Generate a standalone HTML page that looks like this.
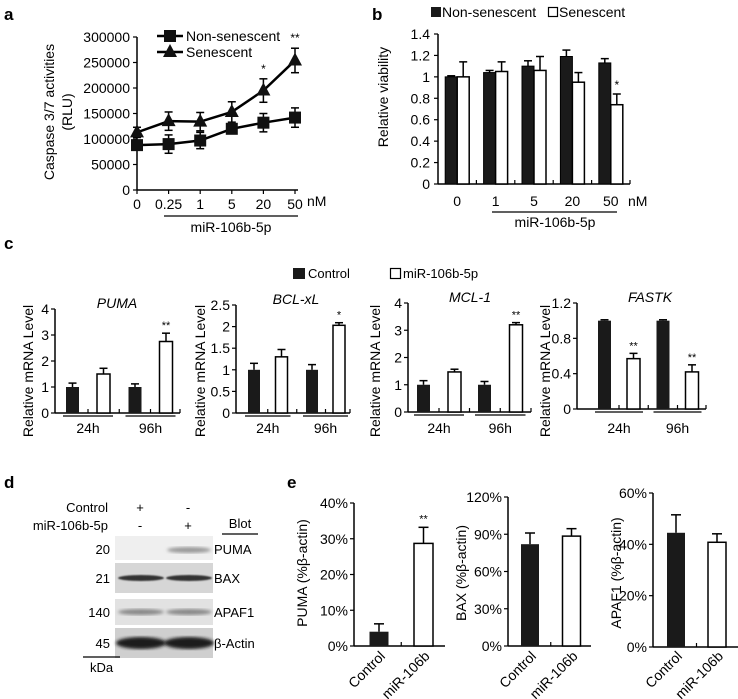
<!DOCTYPE html>
<html><head><meta charset="utf-8"><style>
body{margin:0;background:#fff}
svg{display:block;font-family:"Liberation Sans",Arial,sans-serif}
</style></head><body>
<svg id="fig" width="738" height="699" viewBox="0 0 738 699" xmlns="http://www.w3.org/2000/svg">
<defs><filter id="blur"><feGaussianBlur stdDeviation="1.6"/></filter><filter id="blur2"><feGaussianBlur stdDeviation="0.8"/></filter></defs>
<text x="4" y="20" font-size="17" font-weight="bold">a</text>
<text x="372" y="20" font-size="17" font-weight="bold">b</text>
<text x="4" y="249" font-size="17" font-weight="bold">c</text>
<text x="4" y="488" font-size="17" font-weight="bold">d</text>
<text x="287" y="488" font-size="17" font-weight="bold">e</text>
<g id="pa"></g>
<g id="pb"></g>
<g id="pc"></g>
<g id="pd">
 <text x="108" y="512" font-size="13" text-anchor="end">Control</text>
 <text x="108" y="530" font-size="13" text-anchor="end">miR-106b-5p</text>
 <text x="140" y="512" font-size="13" text-anchor="middle">+</text>
 <text x="188" y="512" font-size="13" text-anchor="middle">-</text>
 <text x="140" y="530" font-size="13" text-anchor="middle">-</text>
 <text x="188" y="530" font-size="13" text-anchor="middle">+</text>
 <text x="240" y="528" font-size="13" text-anchor="middle">Blot</text>
 <line x1="222" y1="534" x2="258" y2="534" stroke="#000" stroke-width="1.2"/>
 <rect x="115" y="536" width="98" height="24" fill="#efefef"/>
 <ellipse cx="189" cy="550" rx="22" ry="3" fill="#999" filter="url(#blur)"/>
 <rect x="115" y="563" width="98" height="30" fill="#d6d6d6"/>
 <ellipse cx="141" cy="578" rx="23" ry="3" fill="#333" filter="url(#blur2)"/>
 <ellipse cx="189" cy="578" rx="23" ry="3" fill="#333" filter="url(#blur2)"/>
 <rect x="115" y="599" width="98" height="26" fill="#e2e2e2"/>
 <ellipse cx="141" cy="612" rx="23" ry="3" fill="#888" filter="url(#blur)"/>
 <ellipse cx="189" cy="612" rx="23" ry="3" fill="#888" filter="url(#blur)"/>
 <rect x="115" y="628" width="98" height="30" fill="#cfcfcf"/>
 <ellipse cx="141" cy="643" rx="25" ry="6" fill="#1a1a1a" filter="url(#blur)"/>
 <ellipse cx="189" cy="643" rx="25" ry="6" fill="#1a1a1a" filter="url(#blur)"/>
 <text x="110" y="554" font-size="13" text-anchor="end">20</text>
 <text x="110" y="583" font-size="13" text-anchor="end">21</text>
 <text x="110" y="617" font-size="13" text-anchor="end">140</text>
 <text x="110" y="648" font-size="13" text-anchor="end">45</text>
 <text x="214" y="554" font-size="13">PUMA</text>
 <text x="214" y="583" font-size="13">BAX</text>
 <text x="214" y="617" font-size="13">APAF1</text>
 <text x="214" y="648" font-size="13">β-Actin</text>
 <line x1="83" y1="657" x2="120" y2="657" stroke="#000" stroke-width="1.2"/>
 <text x="90" y="672" font-size="13">kDa</text>
</g>
<g id="pe"></g>
</svg>
<script>
// ---------- Panel a data ----------
const aCats = ["0","0.25","1","5","20","50"];
const aNon = [88000,90000,97000,120000,132000,142000];
const aNonErr = [9000,18000,16000,9000,18000,19000];
const aSen = [113000,135000,134000,153000,195000,254000];
const aSenErr = [10000,18000,18000,20000,23000,24000];
const aTicks = [0,50000,100000,150000,200000,250000,300000];
const aSig = ["","","","","*","**"];
// ---------- Panel b data ----------
const bCats = ["0","1","5","20","50"];
const bNon = [1.0,1.04,1.10,1.19,1.13];
const bNonErr = [0.01,0.02,0.05,0.06,0.04];
const bSen = [1.0,1.05,1.06,0.95,0.74];
const bSenErr = [0.14,0.09,0.13,0.09,0.10];
const bTicks = [0,0.2,0.4,0.6,0.8,1,1.2,1.4];
const bTickLabels = ["0","0.2","0.4","0.6","0.8","1","1.2","1.4"];
const bSig = ["","","","","*"];
// ---------- Panel c data ----------
const cGenes = ["PUMA","BCL-xL","MCL-1","FASTK"];
const cTimes = ["24h","96h"];
const cCtrl = [[1.0,1.0],[1.0,1.0],[1.0,1.0],[1.0,1.0]];
const cCtrlErr = [[0.15,0.12],[0.15,0.12],[0.15,0.12],[0.01,0.01]];
const cMir = [[1.5,2.75],[1.3,2.03],[1.47,3.2],[0.57,0.42]];
const cMirErr = [[0.22,0.32],[0.17,0.06],[0.1,0.08],[0.06,0.08]];
const cSig = [["","**"],["","*"],["","**"],["**","**"]];
const cMax = [4,2.5,4,1.2];
const cTickLabels = [["0","1","2","3","4"],["0","0.5","1","1.5","2","2.5"],["0","1","2","3","4"],["0","0.4","0.8","1.2"]];
// ---------- Panel e data ----------
const eProteins = ["PUMA","BAX","APAF1"];
const eCats = ["Control","miR-106b"];
const eVals = [[4,28.7],[82,88.5],[44.5,40.8]];
const eErr = [[2.2,4.5],[9,6],[7,3.3]];
const eSig = [["","**"],["",""],["",""]];
const eMax = [40,120,60];
const eTickLabels = [["0%","10%","20%","30%","40%"],["0%","30%","60%","90%","120%"],["0%","20%","40%","60%"]];

const NS="http://www.w3.org/2000/svg";
function mk(parent,tag,attrs,txt){const e=document.createElementNS(NS,tag);for(const k in attrs)e.setAttribute(k,attrs[k]);if(txt!==undefined)e.textContent=txt;parent.appendChild(e);return e;}
function line(p,x1,y1,x2,y2,w){return mk(p,"line",{x1,y1,x2,y2,stroke:"#000","stroke-width":w||1.5});}
function errBar(p,x,yTop,yErr,cap){line(p,x,yTop,x,yErr,1.5);line(p,x-cap,yErr,x+cap,yErr,1.5);}

// ===== Panel a =====
(function(){
const g=document.getElementById("pa");
const x0=137,y0=190,yT=37;
const ys=v=>y0-(v/300000)*(y0-yT);
const xsc=i=>x0+i*((295-137)/5);
line(g,x0,yT,x0,y0,1.5);line(g,x0,y0,298,y0,1.5);
aTicks.forEach(t=>{line(g,x0-4,ys(t),x0,ys(t),1.2);
 const tl=mk(g,"text",{x:x0-7,y:ys(t)+5,"font-size":14,"text-anchor":"end"},String(t));
 
 });
aCats.forEach((c,i)=>{line(g,xsc(i),y0,xsc(i),y0+4,1.2);
 const tl=mk(g,"text",{x:xsc(i),y:y0+19,"font-size":14,"text-anchor":"middle"},c);
 
 });
mk(g,"text",{x:307,y:206,"font-size":14},"nM");
line(g,164,216,298,216,1.2);
mk(g,"text",{x:231,y:232,"font-size":14,"text-anchor":"middle"},"miR-106b-5p");
const yt=mk(g,"text",{transform:"translate(54,112) rotate(-90)","font-size":14,"text-anchor":"middle"},"Caspase 3/7 activities");


mk(g,"text",{transform:"translate(72,112) rotate(-90)","font-size":14,"text-anchor":"middle"},"(RLU)");
function series(vals,errs,name,marker){
 let d="";vals.forEach((v,i)=>{d+=(i?"L":"M")+xsc(i)+" "+ys(v);});
 const p=mk(g,"path",{d,fill:"none",stroke:"#000","stroke-width":2.5});
 
 
 vals.forEach((v,i)=>{const x=xsc(i);
  line(g,x,ys(v+errs[i]),x,ys(v-errs[i]),1.5);line(g,x-4,ys(v+errs[i]),x+4,ys(v+errs[i]),1.5);line(g,x-4,ys(v-errs[i]),x+4,ys(v-errs[i]),1.5);
  let m;
  if(marker==="sq") m=mk(g,"rect",{x:x-6,y:ys(v)-6,width:12,height:12,fill:"#111"});
  else m=mk(g,"path",{d:`M${x} ${ys(v)-8}L${x+7} ${ys(v)+5}L${x-7} ${ys(v)+5}Z`,fill:"#111"});
  
  
 });
}
series(aNon,aNonErr,"non-senescent","sq");
series(aSen,aSenErr,"senescent","tri");
aSig.forEach((s,i)=>{if(s){mk(g,"text",{x:xsc(i),y:ys(aSen[i]+aSenErr[i])-6,"font-size":12,"text-anchor":"middle"},s);}});
line(g,157,36,183,36,2.5);mk(g,"rect",{x:164,y:30,width:12,height:12,fill:"#111"});
const l1=mk(g,"text",{x:186,y:41,"font-size":14},"Non-senescent");


line(g,157,52,183,52,2.5);mk(g,"path",{d:"M170 44L177 57L163 57Z",fill:"#111"});
const l2=mk(g,"text",{x:186,y:57,"font-size":14},"Senescent");


})();

// ===== Panel b =====
(function(){
const g=document.getElementById("pb");
const x0=438,y0=184,yT=34,x1=630;
const ys=v=>y0-(v/1.4)*(y0-yT);
const slot=(x1-x0)/5;const gc=i=>x0+slot*(i+0.5);const bw=12;
line(g,x0,yT,x0,y0,1.5);line(g,x0,y0,x1,y0,1.5);
bTicks.forEach((t,i)=>{line(g,x0-4,ys(t),x0,ys(t),1.2);
 mk(g,"text",{x:x0-8,y:ys(t)+5,"font-size":14,"text-anchor":"end"},bTickLabels[i]);});
for(let i=1;i<=5;i++)line(g,x0+slot*i,y0,x0+slot*i,y0-4,1.2);
bCats.forEach((c,i)=>{
 const x=gc(i);
 const r1=mk(g,"rect",{x:x-bw,y:ys(bNon[i]),width:bw,height:y0-ys(bNon[i]),fill:"#1a1a1a",stroke:"#000","stroke-width":1});
 
 
 errBar(g,x-bw/2,ys(bNon[i]),ys(bNon[i]+bNonErr[i]),4);
 const r2=mk(g,"rect",{x:x,y:ys(bSen[i]),width:bw,height:y0-ys(bSen[i]),fill:"#fff",stroke:"#000","stroke-width":1.5});
 
 
 errBar(g,x+bw/2,ys(bSen[i]),ys(bSen[i]+bSenErr[i]),4);
 if(bSig[i])mk(g,"text",{x:x+bw/2,y:ys(bSen[i]+bSenErr[i])-5,"font-size":12,"text-anchor":"middle"},bSig[i]);
 mk(g,"text",{x:x,y:206,"font-size":14,"text-anchor":"middle"},c);
});
mk(g,"text",{x:628,y:206,"font-size":14},"nM");
line(g,492,212,617,212,1.2);
mk(g,"text",{x:555,y:227,"font-size":14,"text-anchor":"middle"},"miR-106b-5p");
const yt=mk(g,"text",{transform:"translate(388,97) rotate(-90)","font-size":14,"text-anchor":"middle"},"Relative viability");


mk(g,"rect",{x:431,y:7,width:10,height:10,fill:"#1a1a1a"});
mk(g,"text",{x:442,y:17,"font-size":14},"Non-senescent");
mk(g,"rect",{x:548.5,y:7.5,width:9,height:9,fill:"#fff",stroke:"#000","stroke-width":1.2});
mk(g,"text",{x:559,y:17,"font-size":14},"Senescent");
})();

// ===== Panel c =====
(function(){
const g=document.getElementById("pc");
const axX=[55,236,408,577], endX=[180,350,531,706], yTop=[309,305,303,303], yBot=[413,413,412,409];
const centers=[[72.5,103.5,135,166],[254,281.5,312,339],[423.5,454.5,484.5,516],[604.5,633.5,663,692]];
const bwArr=[13,12,13,13];
const titleX=[117,296,470,650], yTitleX=[33,205,380,550];
mk(g,"rect",{x:293,y:268,width:12,height:11,fill:"#1a1a1a"});
mk(g,"text",{x:308,y:278,"font-size":13},"Control");
mk(g,"rect",{x:390.5,y:268.5,width:10,height:10,fill:"#fff",stroke:"#000","stroke-width":1.2});
mk(g,"text",{x:403,y:278,"font-size":13},"miR-106b-5p");
cGenes.forEach((gene,k)=>{
 const sub=mk(g,"g",{});
 
 
 const x0=axX[k],y0=yBot[k],yT=yTop[k],mx=cMax[k];
 const ys=v=>y0-(v/mx)*(y0-yT);
 line(sub,x0,yT,x0,y0,1.5);line(sub,x0,y0,endX[k],y0,1.5);
 const labs=cTickLabels[k];
 labs.forEach((t,i)=>{const v=mx*i/(labs.length-1);line(sub,x0-4,ys(v),x0,ys(v),1.2);
  mk(sub,"text",{x:x0-6,y:ys(v)+5,"font-size":14,"text-anchor":"end"},t);});
 mk(sub,"text",{x:titleX[k],y:yTop[k]-1,"font-size":14,"font-style":"italic","text-anchor":"middle"},gene);
 const yt=mk(sub,"text",{transform:`translate(${yTitleX[k]},371) rotate(-90)`,"font-size":14,"text-anchor":"middle"},"Relative mRNA Level");
 
 
 const c=centers[k],bw=bwArr[k];
 for(let i=0;i<3;i++){const tx=(c[i]+c[i+1])/2;line(sub,tx,y0,tx,y0-4,1.2);}
 line(sub,endX[k],y0,endX[k],y0-4,1.2);
 cTimes.forEach((t,j)=>{
  const cb=c[2*j],cw=c[2*j+1];
  const r1=mk(sub,"rect",{x:cb-bw/2,y:ys(cCtrl[k][j]),width:bw,height:y0-ys(cCtrl[k][j]),fill:"#1a1a1a"});
  
  
  errBar(sub,cb,ys(cCtrl[k][j]),ys(cCtrl[k][j]+cCtrlErr[k][j]),4);
  const r2=mk(sub,"rect",{x:cw-bw/2,y:ys(cMir[k][j]),width:bw,height:y0-ys(cMir[k][j]),fill:"#fff",stroke:"#000","stroke-width":1.5});
  
  
  errBar(sub,cw,ys(cMir[k][j]),ys(cMir[k][j]+cMirErr[k][j]),4);
  if(cSig[k][j])mk(sub,"text",{x:cw,y:ys(cMir[k][j]+cMirErr[k][j])-4,"font-size":11,"text-anchor":"middle"},cSig[k][j]);
  line(sub,cb-bw/2-3,y0+3,cw+bw/2+3,y0+3,1.2);
  mk(sub,"text",{x:(cb+cw)/2,y:433,"font-size":14,"text-anchor":"middle"},t);
 });
});
})();

// ===== Panel e =====
(function(){
const g=document.getElementById("pe");
const axX=[354,508,653], endX=[445,591,738], yTop=[503,497,493], yBot=[646,646,647];
const cb=[379,530,676], cw=[423.5,571.5,717], bwArr=[19,18,18];
const yTitleX=[307,466,621];
eProteins.forEach((p,k)=>{
 const sub=mk(g,"g",{});
 
 
 const x0=axX[k],y0=yBot[k],yT=yTop[k],mx=eMax[k];
 const ys=v=>y0-(v/mx)*(y0-yT);
 line(sub,x0,yT,x0,y0,1.5);line(sub,x0,y0,endX[k],y0,1.5);
 const labs=eTickLabels[k];
 labs.forEach((t,i)=>{const v=mx*i/(labs.length-1);line(sub,x0-4,ys(v),x0,ys(v),1.2);
  mk(sub,"text",{x:x0-6,y:ys(v)+5,"font-size":14,"text-anchor":"end"},t);});
 const yt=mk(sub,"text",{transform:`translate(${yTitleX[k]},573) rotate(-90)`,"font-size":14,"text-anchor":"middle"},p+" (%β-actin)");
 
 
 line(sub,(cb[k]+cw[k])/2,y0,(cb[k]+cw[k])/2,y0-4,1.2);
 const bw=bwArr[k];
 const v0=eVals[k][0],v1=eVals[k][1];
 const r1=mk(sub,"rect",{x:cb[k]-bw/2,y:ys(v0),width:bw,height:y0-ys(v0),fill:"#1a1a1a"});
 
 
 errBar(sub,cb[k],ys(v0),ys(v0+eErr[k][0]),5);
 const r2=mk(sub,"rect",{x:cw[k]-bw/2,y:ys(v1),width:bw,height:y0-ys(v1),fill:"#fff",stroke:"#000","stroke-width":1.5});
 
 
 errBar(sub,cw[k],ys(v1),ys(v1+eErr[k][1]),5);
 if(eSig[k][1])mk(sub,"text",{x:cw[k],y:ys(v1+eErr[k][1])-5,"font-size":11,"text-anchor":"middle"},eSig[k][1]);
 [cb[k],cw[k]].forEach((x,i)=>{
  mk(sub,"text",{transform:`translate(${x+7},657) rotate(-45)`,"font-size":14,"text-anchor":"end"},eCats[i]);
 });
});
})();
</script>
</body></html>
